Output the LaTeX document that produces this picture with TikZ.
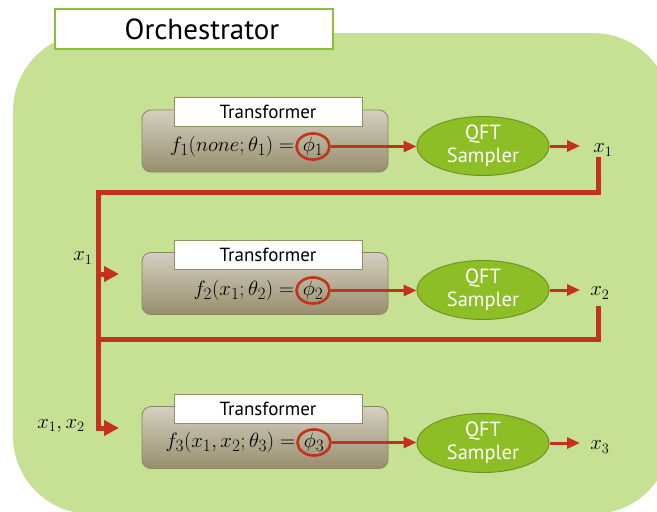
\documentclass[tikz,border=0pt]{standalone}
\usepackage{fontspec}
\setmainfont{PT Sans}
\usetikzlibrary{arrows.meta,shapes.geometric}
\definecolor{bggreen}{RGB}{198,224,148}
\definecolor{qftgreen}{RGB}{141,190,38}
\definecolor{qftborder}{RGB}{108,150,35}
\definecolor{redline}{RGB}{196,50,30}
\definecolor{graytop}{RGB}{212,208,194}
\definecolor{graybot}{RGB}{150,142,108}
\definecolor{grayborder}{RGB}{140,132,98}
\definecolor{orchborder}{RGB}{140,190,60}
\definecolor{labelborder}{RGB}{150,140,100}
\tikzset{
  graybox/.style={draw=grayborder, line width=0.8pt, rounded corners=9pt,
    top color=graytop, bottom color=graybot, minimum width=246pt, minimum height=62pt, inner sep=0pt},
  labelbox/.style={draw=labelborder, line width=0.8pt, fill=white, minimum width=188pt,
    minimum height=29pt, inner sep=0pt, font=\fontsize{19}{22}\selectfont},
  formula/.style={inner sep=0pt, font=\fontsize{22.8}{26}\selectfont},
  phinode/.style={ellipse, draw=redline, line width=2.6pt, minimum width=33pt, minimum height=24pt,
    inner sep=0pt, font=\fontsize{22.8}{26}\selectfont},
  qft/.style={ellipse, draw=qftborder, line width=1pt, fill=qftgreen, text=white, align=center,
    minimum width=132pt, minimum height=51pt, inner sep=0pt, font=\fontsize{20.5}{23}\selectfont},
  thinarrow/.style={draw=redline, line width=3pt, -{Triangle[length=13pt,width=11pt]}},
  bus/.style={draw=redline, line width=5pt},
  busarrow/.style={bus, -{Triangle[length=15pt,width=15pt]}},
  xlabel/.style={inner sep=0pt, font=\fontsize{22}{26}\selectfont},
}
\begin{document}
\begin{tikzpicture}[x=1pt,y=-1pt]
\useasboundingbox (0,0) rectangle (657,512);
% background
\fill[bggreen, rounded corners=78pt] (13,33) rectangle (671,514);
\node[draw=orchborder, line width=1.5pt, fill=white, minimum width=278pt, minimum height=40pt,
  inner sep=0pt, font=\fontsize{29}{32}\selectfont] (orch) at (194,29) {\hspace*{16pt}Orchestrator};

% block 1
\node[graybox] (g1) at (265,141) {};
\node[labelbox] (l1) at (268,112) {Transformer};
\node[phinode] (p1) at (313,146.5) {$\phi_1$};
\node[formula, anchor=base east] (f1) at ([xshift=-1pt]p1.base -| p1.west) {$f_1(none;\theta_1) =$};
\node[qft] (q1) at (483,146) {QFT\\Sampler};
\node[xlabel] (x1) at (603,150) {$x_1$};
\coordinate (a1) at (580,146);
\draw[thinarrow] (p1.east) -- (p1.east -| q1.west);
\draw[thinarrow] (q1.east) -- (a1);

% block 2
\node[graybox] (g2) at (265,283.5) {};
\node[labelbox] (l2) at (268,254.5) {Transformer};
\node[phinode] (p2) at (313,290.5) {$\phi_2$};
\node[formula, anchor=base east] (f2) at ([xshift=-1pt]p2.base -| p2.west) {$f_2(x_1;\theta_2) =$};
\node[qft] (q2) at (483,290) {QFT\\Sampler};
\node[xlabel] (x2) at (600,293) {$x_2$};
\coordinate (a2) at (580,290);
\draw[thinarrow] (p2.east) -- (p2.east -| q2.west);
\draw[thinarrow] (q2.east) -- (a2);

% block 3
\node[graybox] (g3) at (265,437.5) {};
\node[labelbox] (l3) at (268,408.5) {Transformer};
\node[phinode] (p3) at (314,442.5) {$\phi_3$};
\node[formula, anchor=base east] (f3) at ([xshift=-1pt]p3.base -| p3.west) {$f_3(x_1,x_2;\theta_3) =$};
\node[qft] (q3) at (483,443) {QFT\\Sampler};
\node[xlabel] (x3) at (600,447) {$x_3$};
\coordinate (a3) at (580,443);
\draw[thinarrow] (p3.east) -- (p3.east -| q3.west);
\draw[thinarrow] (q3.east) -- (a3);

% input labels
\node[xlabel] (in1lab) at (83,258) {$x_1$};
\node[xlabel] (in2lab) at (61,426) {$x_1,x_2$};

% bus lines
\coordinate (x1drop) at (598,157);
\coordinate (busL1) at (98,192);
\coordinate (j2) at (98,274);
\coordinate (in2) at (119,274);
\coordinate (in3) at (119,428);
\coordinate (x2drop) at (598,306);
\coordinate (busL2) at (98,339);
\draw[busarrow] (x1drop) |- (busL1) |- (in3);
\draw[busarrow] (j2) -- (in2);
\draw[bus] (x2drop) |- (busL2);
\end{tikzpicture}
\end{document}
